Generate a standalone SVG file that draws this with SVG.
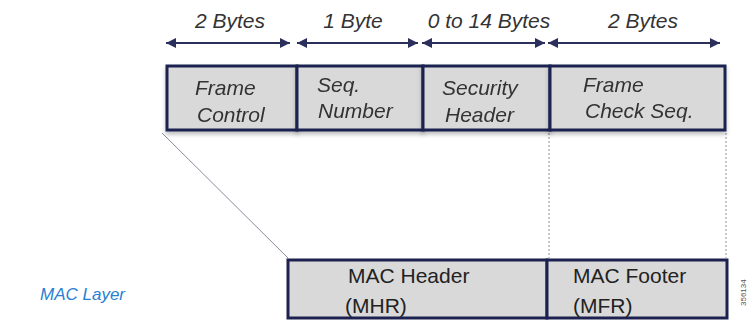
<svg xmlns="http://www.w3.org/2000/svg" width="756" height="320" viewBox="0 0 756 320">
<defs>
<style>
.box{fill:#d9d9d9;stroke:#1c2150;stroke-width:3}
.lbl{font-family:"Liberation Sans",Arial,sans-serif;font-style:italic;font-size:21px;fill:#333}
.top{font-family:"Liberation Sans",Arial,sans-serif;font-style:italic;font-size:21px;fill:#333;text-anchor:middle}
.mac{font-family:"Liberation Sans",Arial,sans-serif;font-size:21px;fill:#222}
.arr{stroke:#2a2f5c;stroke-width:2;fill:none;marker-start:url(#ah);marker-end:url(#ah)}
.guide{stroke:#8a8ca0;stroke-width:1;fill:none}
</style>
<marker id="ah" viewBox="0 0 10 10" refX="10" refY="5" markerWidth="5.5" markerHeight="5" orient="auto-start-reverse" markerUnits="strokeWidth">
<path d="M0,0 L10,5 L0,10 Z" fill="#2a2f5c"/>
</marker>
<filter id="sh" x="-5%" y="-20%" width="110%" height="150%">
<feDropShadow dx="0" dy="3" stdDeviation="2" flood-color="#000" flood-opacity="0.25"/>
</filter>
</defs>
<g id="connectors">
<line class="arr" x1="166" y1="43" x2="290" y2="43"/>
<line class="arr" x1="297" y1="43" x2="418" y2="43"/>
<line class="arr" x1="422" y1="43" x2="545" y2="43"/>
<line class="arr" x1="548" y1="43" x2="720" y2="43"/>
<line class="guide" x1="162" y1="133" x2="288" y2="258" stroke-width="1.3"/>
<line class="guide" x1="549" y1="133" x2="549" y2="258" stroke-dasharray="2,2"/>
<line class="guide" x1="726" y1="133" x2="726" y2="258" stroke-dasharray="2,2"/>
</g>
<g id="size-labels">
<text class="top" x="230" y="28">2 Bytes</text>
<text class="top" x="353" y="28">1 Byte</text>
<text class="top" x="489" y="28">0 to 14 Bytes</text>
<text class="top" x="643" y="28">2 Bytes</text>
</g>
<g id="frame-control" filter="url(#sh)">
<rect class="box" x="167" y="66" width="130" height="64"/>
<text class="lbl" x="195" y="95">Frame</text>
<text class="lbl" x="197" y="122">Control</text>
</g>
<g id="seq-number" filter="url(#sh)">
<rect class="box" x="297" y="66" width="126" height="64"/>
<text class="lbl" x="317" y="92">Seq.</text>
<text class="lbl" x="318" y="118">Number</text>
</g>
<g id="security-header" filter="url(#sh)">
<rect class="box" x="423" y="66" width="127" height="64"/>
<text class="lbl" x="442" y="95">Security</text>
<text class="lbl" x="445" y="122">Header</text>
</g>
<g id="frame-check-seq" filter="url(#sh)">
<rect class="box" x="550" y="66" width="175" height="64"/>
<text class="lbl" x="583" y="92">Frame</text>
<text class="lbl" x="585" y="118">Check Seq.</text>
</g>
<g id="mac-header">
<rect class="box" x="288" y="260" width="259" height="58"/>
<text class="mac" x="348" y="283">MAC Header</text>
<text class="mac" x="345" y="313">(MHR)</text>
</g>
<g id="mac-footer">
<rect class="box" x="547" y="260" width="180" height="58"/>
<text class="mac" x="573" y="283">MAC Footer</text>
<text class="mac" x="573" y="313">(MFR)</text>
</g>
<text x="40" y="300" font-family="'Liberation Sans',Arial,sans-serif" font-style="italic" font-size="17" fill="#2a80d2">MAC Layer</text>
<text transform="translate(746,306) rotate(-90)" font-family="'Liberation Sans',Arial,sans-serif" font-size="8" fill="#555">356134</text>
</svg>
